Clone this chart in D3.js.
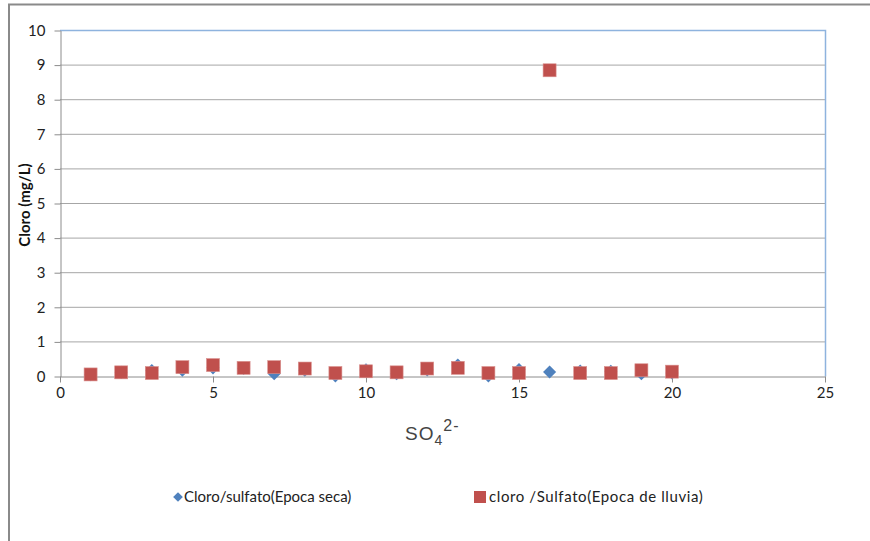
<!DOCTYPE html>
<html>
	<head>
		<meta charset="UTF-8" />
		<title>document</title>
		<script src="https://d3js.org/d3.v7.min.js"></script>
		<style>
			body{ margin:0; background:#fff; }
			.grid line{ stroke:#a6a6a6; stroke-width:1; }
			.axis text{ font-family:Lato, "Liberation Sans", sans-serif; font-size:15px; fill:#222; }
			.axis path, .axis line{ stroke:#8c8c8c; }
		</style>
	</head>
	<body>

	<script type="text/javascript">
		var width = 870;
		var height = 541;

		var sampleIds = [1,2,3,4,5,6,7,8,9,10,11,12,13,14,15,16,17,18,19,20];
		var secaValues = [0.05,0.12,0.17,0.18,0.25,0.23,0.08,0.18,0.02,0.19,0.08,0.19,0.33,0.02,0.2,0.13,0.16,0.15,0.08,0.1];
		var lluviaValues = [0.06,0.12,0.1,0.27,0.33,0.25,0.27,0.23,0.1,0.15,0.12,0.23,0.25,0.1,0.1,8.85,0.1,0.1,0.18,0.14];
		var xTicks = [0,5,10,15,20,25];
		var yTicks = [0,1,2,3,4,5,6,7,8,9,10];
		var seriesNames = ["Cloro/sulfato(Epoca seca)", "cloro /Sulfato(Epoca de lluvia)"];

		var svg = d3.select("body").append("svg").attr("width", width).attr("height", height);

		// chart frame
		svg.append("rect").attr("x", 9).attr("y", 4.5).attr("width", 880).attr("height", 560)
			.attr("fill", "none").attr("stroke", "#8a8a8a").attr("stroke-width", 2);

		var x = d3.scaleLinear().domain([0, 25]).range([60, 825]);
		var y = d3.scaleLinear().domain([0, 10]).range([376.5, 30.5]);

		// gridlines
		svg.append("g").attr("class", "grid").selectAll("line")
			.data(yTicks.slice(1)).enter().append("line")
			.attr("x1", x(0)).attr("x2", x(25))
			.attr("y1", function(d){ return y(d); }).attr("y2", function(d){ return y(d); });

		// plot border top/right
		svg.append("path")
			.attr("d", "M" + x(0) + "," + y(10) + "H" + (x(25) + 0.5) + "V" + y(0))
			.attr("fill", "none").attr("stroke", "#8eb3de").attr("stroke-width", 1.5);

		var yAxis = svg.append("g").attr("class", "axis")
			.attr("transform", "translate(" + (x(0) + 0.5) + ",0)")
			.call(d3.axisLeft(y).tickValues(yTicks).tickSize(6).tickPadding(9).tickSizeOuter(0));

		var xAxis = svg.append("g").attr("class", "axis")
			.attr("transform", "translate(0," + y(0) + ")")
			.call(d3.axisBottom(x).tickValues(xTicks).tickSize(6).tickPadding(5).tickSizeOuter(0));

		// series
		svg.append("g").selectAll("path")
			.data(sampleIds).enter().append("path")
			.attr("d", d3.symbol().type(d3.symbolDiamond2).size(110))
			.attr("transform", function(d, i){ return "translate(" + x(d) + "," + y(secaValues[i]) + ")"; })
			.attr("fill", "#4f81bd");

		svg.append("g").selectAll("rect")
			.data(sampleIds).enter().append("rect")
			.attr("x", function(d){ return x(d) - 6.5; })
			.attr("y", function(d, i){ return y(lluviaValues[i]) - 6.5; })
			.attr("width", 13).attr("height", 13)
			.attr("fill", "#c0504d").attr("stroke", "#d9908e").attr("stroke-width", 0.6);

		// axis titles
		svg.append("text")
			.attr("transform", "translate(30,205) rotate(-90)")
			.attr("text-anchor", "middle")
			.attr("font-family", "Lato, 'Liberation Sans', sans-serif")
			.attr("font-weight", "bold").attr("font-size", 15).attr("fill", "#111")
			.text("Cloro (mg/L)");

		var xt = svg.append("text")
			.attr("x", 405).attr("y", 440)
			.attr("font-family", "'Liberation Sans', Arial, sans-serif")
			.attr("font-size", 19).attr("letter-spacing", 1).attr("fill", "#444");
		xt.append("tspan").text("SO");
		xt.append("tspan").attr("font-size", 14).attr("dy", 5).text("4");
		xt.append("tspan").attr("font-size", 16).attr("dy", -14).text("2-");

		// legend
		var legend = svg.append("g")
			.attr("font-family", "Lato, 'Liberation Sans', sans-serif")
			.attr("font-size", 15).attr("fill", "#222");
		legend.append("path")
			.attr("d", d3.symbol().type(d3.symbolDiamond2).size(60))
			.attr("transform", "translate(178,497)").attr("fill", "#4f81bd");
		legend.append("text").attr("x", 184).attr("y", 502).text(seriesNames[0]);
		legend.append("rect").attr("x", 474).attr("y", 491).attr("width", 12).attr("height", 12).attr("fill", "#c0504d");
		legend.append("text").attr("x", 489).attr("y", 502).attr("letter-spacing", 0.6).text(seriesNames[1]);
	</script>

	</body>
</html>
